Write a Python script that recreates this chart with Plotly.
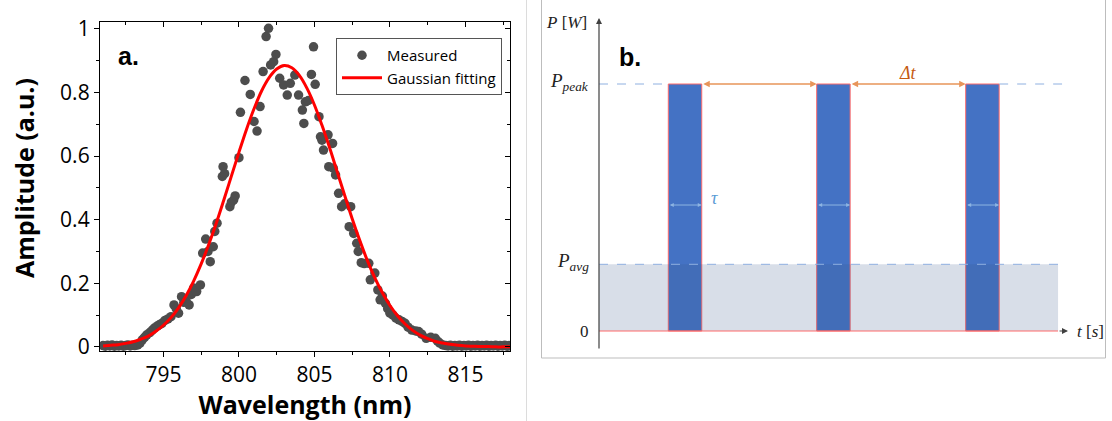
import plotly.graph_objects as go

# ---------------- Panel a: measured spectrum + Gaussian fit ----------------
meas_wl = [
    791.0, 791.15, 791.3, 791.45, 791.6, 791.75, 791.9, 792.05, 792.2, 792.35,
    792.5, 792.65, 792.8, 792.95, 793.1, 793.3, 793.45, 793.6, 793.75, 793.9,
    794.1, 794.25, 794.4, 794.6, 794.75, 794.9, 795.1, 795.3, 795.5, 795.7,
    795.85, 796.0, 796.2, 796.35, 796.5, 796.7, 796.85, 797.0, 797.2, 797.45,
    797.6, 797.8, 797.95, 798.1, 798.3, 798.4, 798.55, 798.9, 798.95, 799.05,
    799.4, 799.5, 799.65, 799.75, 800.0, 800.1, 800.4, 800.75, 801.0, 801.2,
    801.4, 801.6, 801.8, 801.96, 802.1, 802.3, 802.45, 802.7, 802.96, 803.2,
    803.4, 803.7, 803.95, 804.2, 804.3, 804.4, 804.6, 804.8, 804.94, 805.05,
    805.3, 805.4, 805.5, 805.6, 805.9, 805.95, 806.2, 806.25, 806.4, 806.6,
    806.8, 807.0, 807.3, 807.4, 807.6, 807.8, 807.9, 808.1, 808.3, 808.6,
    808.7, 809.0, 809.2, 809.35, 809.5, 809.7, 809.85, 810.0, 810.2, 810.4,
    810.6, 810.8, 811.0, 811.2, 811.45, 811.7, 811.9, 812.1, 812.4, 812.7,
    813.0, 813.15, 813.3, 813.5, 813.7, 813.85, 814.0, 814.15, 814.3, 814.45,
    814.6, 814.75, 814.9, 815.05, 815.2, 815.35, 815.5, 815.65, 815.8, 815.95,
    816.1, 816.25, 816.4, 816.55, 816.7, 816.85, 817.0, 817.15, 817.3, 817.45,
    817.6, 817.75, 817.9, 818.05,
]
meas_amp = [
    0.004, 0.002, 0.005, 0.003, 0.006, 0.002, 0.004, 0.003, 0.005, 0.002,
    0.004, 0.006, 0.003, 0.005, 0.004, 0.006, 0.012, 0.022, 0.030, 0.038,
    0.045, 0.052, 0.059, 0.066, 0.070, 0.074, 0.083, 0.088, 0.095, 0.132,
    0.120, 0.106, 0.158, 0.140, 0.145, 0.132, 0.165, 0.185, 0.174, 0.195,
    0.295, 0.339, 0.300, 0.268, 0.315, 0.363, 0.389, 0.536, 0.567, 0.545,
    0.441, 0.455, 0.462, 0.475, 0.595, 0.738, 0.838, 0.794, 0.709, 0.679,
    0.756, 0.866, 0.976, 1.002, 0.887, 0.897, 0.920, 0.845, 0.824, 0.792,
    0.829, 0.855, 0.792, 0.745, 0.703, 0.771, 0.775, 0.857, 0.944, 0.826,
    0.724, 0.661, 0.650, 0.619, 0.667, 0.567, 0.640, 0.562, 0.541, 0.483,
    0.441, 0.450, 0.378, 0.441, 0.357, 0.326, 0.300, 0.265, 0.262, 0.263,
    0.211, 0.232, 0.179, 0.148, 0.160, 0.137, 0.120, 0.106, 0.100, 0.090,
    0.085, 0.080, 0.074, 0.062, 0.053, 0.050, 0.048, 0.040, 0.027, 0.030,
    0.027, 0.018, 0.012, 0.006, 0.004, 0.003, 0.005, 0.002, 0.004, 0.003,
    0.005, 0.002, 0.004, 0.003, 0.005, 0.002, 0.004, 0.003, 0.005, 0.002,
    0.004, 0.003, 0.005, 0.002, 0.004, 0.003, 0.005, 0.002, 0.004, 0.003,
    0.005, 0.002, 0.004, 0.003,
]

fit_wl = [
    791.0, 791.5, 792.0, 792.5, 793.0, 793.5, 794.0, 794.5, 795.0, 795.5,
    796.0, 796.5, 797.0, 797.5, 798.0, 798.5, 799.0, 799.5, 800.0, 800.5,
    801.0, 801.5, 802.0, 802.5, 803.0, 803.5, 804.0, 804.5, 805.0, 805.5,
    806.0, 806.5, 807.0, 807.5, 808.0, 808.5, 809.0, 809.5, 810.0, 810.5,
    811.0, 811.5, 812.0, 812.5, 813.0, 813.5, 814.0, 814.5, 815.0, 815.5,
    816.0, 816.5, 817.0, 817.5, 818.0,
]
fit_amp = [
    0.003, 0.005, 0.007, 0.011, 0.016, 0.024, 0.034, 0.049, 0.068, 0.092,
    0.123, 0.161, 0.207, 0.261, 0.322, 0.389, 0.462, 0.537, 0.612, 0.684,
    0.749, 0.805, 0.847, 0.874, 0.885, 0.878, 0.854, 0.814, 0.761, 0.697,
    0.627, 0.552, 0.477, 0.403, 0.335, 0.272, 0.217, 0.170, 0.130, 0.098,
    0.072, 0.052, 0.037, 0.026, 0.017, 0.012, 0.008, 0.005, 0.003, 0.002,
    0.001, 0.001, 0.000, 0.000, 0.000,
]

x_ticks = [795, 800, 805, 810, 815]
y_ticks = [0, 0.2, 0.4, 0.6, 0.8, 1]
x_range = [790.8, 817.95]
y_range = [-0.013, 1.022]

# ---------------- Panel b: pulse train schematic ----------------
pulse_starts = [4.66, 14.64, 24.66]
pulse_width = 2.25
p_peak = 1.0
p_avg = 0.27
t_fill_end = 30.87
t_peak_line_end = 31.14
t_axis_end = 31.54
p_axis_top = 1.267
p_axis_bottom = -0.077

W, H = 1112, 421
def px_x(p):
    return p / W
def px_y(p):
    return (H - p) / H

FONT = "Open Sans"
SERIF = "Liberation Serif"

fig = go.Figure()

fig.add_trace(go.Scatter(
    x=meas_wl, y=meas_amp, mode="markers", name="Measured",
    marker=dict(color="#4d4d4d", size=9.5, line=dict(width=0)),
    xaxis="x", yaxis="y",
))
fig.add_trace(go.Scatter(
    x=fit_wl, y=fit_amp, mode="lines", name="Gaussian fitting",
    line=dict(color="#ff0000", width=3, shape="spline"),
    xaxis="x", yaxis="y",
))
# dummy traces to instantiate mirror axes and the schematic axes
fig.add_trace(go.Scatter(x=[None], y=[None], xaxis="x3", yaxis="y3",
                         showlegend=False, hoverinfo="skip"))
fig.add_trace(go.Scatter(x=[None], y=[None], xaxis="x2", yaxis="y2",
                         showlegend=False, hoverinfo="skip"))

dom_a_x = [px_x(100), px_x(510)]
dom_a_y = [px_y(351), px_y(22)]

axis_common = dict(showgrid=False, zeroline=False, linecolor="black",
                   linewidth=1.3, tickcolor="black")

fig.update_layout(
    width=W, height=H, margin=dict(l=0, r=0, t=0, b=0, autoexpand=False),
    paper_bgcolor="white", plot_bgcolor="white",
    showlegend=True,
    legend=dict(x=px_x(336), y=px_y(38), xanchor="left", yanchor="top",
                bordercolor="#555555", borderwidth=1, bgcolor="white",
                font=dict(family=FONT, size=15, color="black"),
                tracegroupgap=0, itemwidth=40),
    xaxis=dict(domain=dom_a_x, anchor="y", range=x_range, tickvals=x_ticks,
               ticks="outside", ticklen=5, tickwidth=1.3,
               minor=dict(ticks="outside", ticklen=3, dtick=2.5, tick0=795,
                          tickcolor="black", tickwidth=1.1),
               mirror=True, tickfont=dict(family=FONT, size=21, color="black"),
               title=dict(text="<b>Wavelength (nm)</b>", standoff=6,
                          font=dict(family=FONT, size=25, color="black")),
               **axis_common),
    yaxis=dict(domain=dom_a_y, anchor="x", range=y_range, tickvals=y_ticks,
               ticks="outside", ticklen=5, tickwidth=1.3,
               minor=dict(ticks="outside", ticklen=3, dtick=0.1, tick0=0,
                          tickcolor="black", tickwidth=1.1),
               mirror=True, tickfont=dict(family=FONT, size=21, color="black"),
               **axis_common),
    xaxis3=dict(domain=dom_a_x, overlaying="x", side="top", anchor="y3",
                range=x_range, tickvals=x_ticks, ticks="inside", ticklen=5,
                tickwidth=1.3, showticklabels=False, showline=False,
                minor=dict(ticks="inside", ticklen=3, dtick=2.5, tick0=795,
                           tickcolor="black", tickwidth=1.1),
                showgrid=False, zeroline=False, tickcolor="black"),
    yaxis3=dict(domain=dom_a_y, overlaying="y", side="right", anchor="x3",
                range=y_range, tickvals=y_ticks, ticks="inside", ticklen=5,
                tickwidth=1.3, showticklabels=False, showline=False,
                minor=dict(ticks="inside", ticklen=3, dtick=0.1, tick0=0,
                           tickcolor="black", tickwidth=1.1),
                showgrid=False, zeroline=False, tickcolor="black"),
    xaxis2=dict(domain=[px_x(541), px_x(1106)], anchor="y2",
                range=[(541 - 599) / 14.87, (1106 - 599) / 14.87],
                visible=False, fixedrange=True),
    yaxis2=dict(domain=[px_y(358), 1.0], anchor="x2",
                range=[(331 - 358) / 247.0, 331 / 247.0],
                visible=False, fixedrange=True),
)

shapes = []
# panel frames
shapes.append(dict(type="line", xref="paper", yref="paper",
                   x0=px_x(526.5), x1=px_x(526.5), y0=0, y1=1,
                   line=dict(color="#dcdcdc", width=1)))
shapes.append(dict(type="line", xref="paper", yref="paper",
                   x0=px_x(541.5), x1=px_x(541.5), y0=px_y(358), y1=1,
                   line=dict(color="#bdbdbd", width=1)))
shapes.append(dict(type="line", xref="paper", yref="paper",
                   x0=px_x(1105.5), x1=px_x(1105.5), y0=px_y(358), y1=1,
                   line=dict(color="#bdbdbd", width=1)))
shapes.append(dict(type="line", xref="paper", yref="paper",
                   x0=px_x(541.5), x1=px_x(1105.5), y0=px_y(358), y1=px_y(358),
                   line=dict(color="#bdbdbd", width=1)))

# pulses
for s in pulse_starts:
    shapes.append(dict(type="rect", xref="x2", yref="y2",
                       x0=s, x1=s + pulse_width, y0=0, y1=p_peak,
                       fillcolor="#4472c4", line=dict(color="#ff6b6b", width=1)))
# average-power shaded area
shapes.append(dict(type="rect", xref="x2", yref="y2",
                   x0=0, x1=t_fill_end, y0=0, y1=p_avg,
                   fillcolor="rgba(60,90,140,0.2)", line=dict(width=0)))
# dashed reference lines
shapes.append(dict(type="line", xref="x2", yref="y2",
                   x0=0, x1=t_fill_end, y0=p_avg, y1=p_avg,
                   line=dict(color="#8fb0e0", width=1, dash="dash")))
shapes.append(dict(type="line", xref="x2", yref="y2",
                   x0=0, x1=pulse_starts[0], y0=p_peak, y1=p_peak,
                   line=dict(color="#8fb0e0", width=1, dash="dash")))
shapes.append(dict(type="line", xref="x2", yref="y2",
                   x0=pulse_starts[-1] + pulse_width, x1=t_peak_line_end,
                   y0=p_peak, y1=p_peak,
                   line=dict(color="#8fb0e0", width=1, dash="dash")))
# red baseline along zero
shapes.append(dict(type="line", xref="x2", yref="y2",
                   x0=0, x1=t_fill_end, y0=0, y1=0,
                   line=dict(color="#ff6b6b", width=1)))
fig.update_layout(shapes=shapes)

ann = []
# axes arrows
ann.append(dict(xref="x2", yref="y2", axref="x2", ayref="y2",
                x=0, y=p_axis_top, ax=0, ay=p_axis_bottom, text="",
                showarrow=True, arrowhead=2, arrowsize=1, arrowwidth=1.2,
                arrowcolor="#404040"))
ann.append(dict(xref="x2", yref="y2", axref="x2", ayref="y2",
                x=t_axis_end, y=0, ax=t_fill_end, ay=0, text="",
                showarrow=True, arrowhead=2, arrowsize=1, arrowwidth=1.2,
                arrowcolor="#404040"))
# delta-t arrows between pulses
for i in range(len(pulse_starts) - 1):
    ann.append(dict(xref="x2", yref="y2", axref="x2", ayref="y2",
                    x=pulse_starts[i + 1], y=p_peak,
                    ax=pulse_starts[i] + pulse_width, ay=p_peak, text="",
                    showarrow=True, arrowhead=2, startarrowhead=2,
                    arrowside="end+start", arrowsize=1, startarrowsize=1,
                    arrowwidth=1.3, arrowcolor="#e8955a"))
# tau arrows inside pulses
for s in pulse_starts:
    ann.append(dict(xref="x2", yref="y2", axref="x2", ayref="y2",
                    x=s + pulse_width, y=0.51, ax=s, ay=0.51, text="",
                    showarrow=True, arrowhead=2, startarrowhead=2,
                    arrowside="end+start", arrowsize=0.8, startarrowsize=0.8,
                    arrowwidth=1, arrowcolor="#8db4e2"))

def lab(text, x, y, xanchor="center", size=17, color="#222222", family=SERIF):
    return dict(xref="x2", yref="y2", x=x, y=y, text=text, showarrow=False,
                xanchor=xanchor, yanchor="middle",
                font=dict(family=family, size=size, color=color))

ann.append(lab("<i>P</i> [<i>W</i>]", (566 - 599) / 14.87, (331 - 22) / 247.0))
ann.append(lab("<i>P</i><sub><i>peak</i></sub>", -0.55, p_peak + 0.01, "right", size=19))
ann.append(lab("<i>P</i><sub><i>avg</i></sub>", -0.55, p_avg + 0.01, "right", size=19))
ann.append(lab("0", -0.55, 0, "right"))
ann.append(lab("<i>t</i> [<i>s</i>]", 32.0, 0, "left"))
ann.append(lab("<i>Δt</i>", (pulse_starts[1] + pulse_width + pulse_starts[2]) / 2,
               (331 - 73) / 247.0, color="#c55a11", size=18))
ann.append(lab("<i>τ</i>", pulse_starts[0] + pulse_width + 0.5, (331 - 198) / 247.0,
               "left", color="#5b9bd5", size=18))
ann.append(lab("<b>b.</b>", (630 - 599) / 14.87, (331 - 57) / 247.0,
               size=25, color="black", family="Liberation Sans"))
# panel a label
ann.append(dict(xref="paper", yref="paper", x=px_x(128), y=px_y(56),
                text="<b>a.</b>", showarrow=False, xanchor="center",
                yanchor="middle",
                font=dict(family="Liberation Sans", size=25, color="black")))
# y-axis title of panel a
ann.append(dict(xref="paper", yref="paper", x=px_x(24), y=px_y(178),
                text="<b>Amplitude (a.u.)</b>", showarrow=False,
                textangle=-90, xanchor="center", yanchor="middle",
                font=dict(family=FONT, size=25, color="black")))
fig.update_layout(annotations=ann)

fig.write_html(
    "out.html",
    config={"displayModeBar": False},
    post_script="document.body.style.margin='0';"
                "document.body.style.overflow='hidden';",
)
